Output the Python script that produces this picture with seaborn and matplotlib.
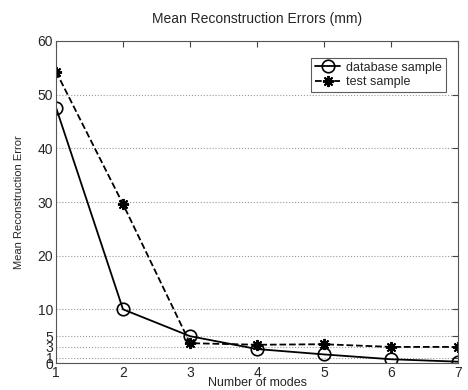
import matplotlib
matplotlib.use("Agg")
import matplotlib.pyplot as plt
import seaborn as sns
import pandas as pd

# ── Data ──────────────────────────────────────────────────────────────────────
modes         = [1, 2, 3, 4, 5, 6, 7]
database_err  = [47.6, 10.0, 5.0, 2.6, 1.6, 0.7, 0.25]
test_err      = [54.3, 29.6, 3.7, 3.4, 3.5, 3.0, 3.0]
y_ticks       = [0, 1, 3, 5, 10, 20, 30, 40, 50, 60]

sns.set_style("white")
plt.rcParams["font.family"] = ["Liberation Sans", "DejaVu Sans"]

fig = plt.figure(figsize=(4.68, 3.9), dpi=100)
ax = fig.add_axes([0.1197, 0.0692, 0.8589, 0.8257])

df_db = pd.DataFrame({"modes": modes, "err": database_err})
df_te = pd.DataFrame({"modes": modes, "err": test_err})

sns.lineplot(data=df_db, x="modes", y="err", ax=ax, color="black", lw=1.3,
             marker="o", markersize=9, markerfacecolor="none",
             markeredgecolor="black", markeredgewidth=1.2,
             label="database sample")
sns.lineplot(data=df_te, x="modes", y="err", ax=ax, color="black", lw=1.3,
             linestyle="--", marker=(8, 2, 0), markersize=8,
             markeredgecolor="black", markeredgewidth=1.4,
             label="test sample")

ax.set_xlim(1, 7)
ax.set_ylim(0, 60)
ax.set_xticks(modes)
ax.set_yticks(y_ticks)
ax.yaxis.grid(True, linestyle=":", color="#999999", lw=0.8)
ax.tick_params(direction="in", top=True, right=True, length=4,
               labelsize=10, pad=2, color="#444444")
for spine in ax.spines.values():
    spine.set_edgecolor("#555555")
    spine.set_linewidth(0.8)

ax.set_xlabel("Number of modes", fontsize=9, labelpad=-2)
ax.set_ylabel("Mean Reconstruction Error", fontsize=8, labelpad=10)
ax.set_title("Mean Reconstruction Errors (mm)", fontsize=10, pad=13)

leg = ax.legend(loc="upper right", bbox_to_anchor=(0.97, 0.947), fontsize=9,
                frameon=True, fancybox=False, handlelength=2.0,
                borderpad=0.3, labelspacing=0.2, handletextpad=0.5,
                borderaxespad=0)
leg.get_frame().set_edgecolor("#333333")
leg.get_frame().set_linewidth(0.8)

fig.savefig("out.png", dpi=100)
